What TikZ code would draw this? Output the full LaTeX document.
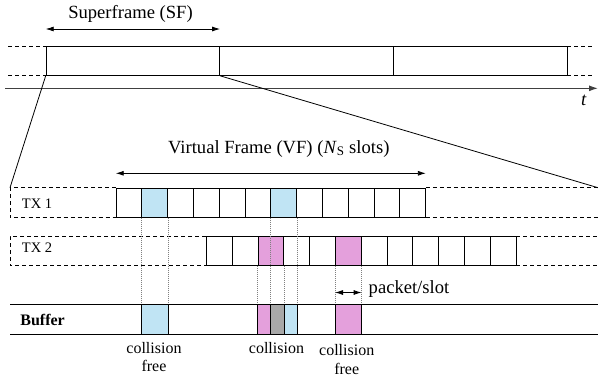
\documentclass[tikz,border=0pt]{standalone}
\usepackage{fontspec}
\setmainfont{Liberation Serif}
\usetikzlibrary{arrows.meta}

\definecolor{slotblue}{RGB}{192,228,244}
\definecolor{slotpink}{RGB}{228,160,220}
\definecolor{slotgray}{RGB}{168,168,168}

\tikzset{
  sfbox/.style={draw,minimum width=173.6pt,minimum height=29pt,inner sep=0pt,anchor=north west},
  slotbox/.style={draw,minimum width=25.8pt,minimum height=29pt,inner sep=0pt,anchor=north west},
  dashline/.style={dash pattern=on 4pt off 3pt},
  dotline/.style={gray,line width=0.4pt,dash pattern=on 1pt off 1pt},
  dimarrow/.style={{Latex[length=8pt,width=5pt]}-{Latex[length=8pt,width=5pt]}},
  biglab/.style={font=\fontsize{18.6}{20}\selectfont,inner sep=0pt},
  smalllab/.style={font=\fontsize{16}{18.4}\selectfont,inner sep=0pt,align=center},
  txlab/.style={font=\fontsize{14.5}{16}\selectfont,inner sep=0pt}
}

\begin{document}
\begin{tikzpicture}[x=1pt,y=-1pt,line width=0.8pt]
\useasboundingbox (0,0) rectangle (598,384);

\foreach \i in {1,2,3}
  \node[sfbox] (sf\i) at ({45.7+(\i-1)*173.6},46) {};
\coordinate (sfl) at (8,46);
\coordinate (sfr) at (593,46);
\draw[dashline] (sfl) -- (sf1.north west);
\draw[dashline] (sfl |- sf1.south west) -- (sf1.south west);
\draw[dashline] (sf3.north east) -- (sfr);
\draw[dashline] (sf3.south east) -- (sfr |- sf3.south east);

\draw[dimarrow] ([yshift=17pt]sf1.north west) -- ([yshift=17pt]sf1.north east);
\node[biglab,anchor=base] (sflab) at (130.5,18.3) {Superframe (SF)};

\coordinate (t0) at (5,88.3);
\coordinate (t1) at (598,88.3);
\draw[darkgray,line width=1.2pt,-{Latex[length=9pt,width=6pt]}] (t0) -- (t1);
\node[biglab,anchor=base] (tlab) at (584,105) {\textit{t}};

\coordinate (tx1l) at (10,187.7);
\coordinate (tx1r) at (598,187.7);
\coordinate (tx2l) at (10,236);
\coordinate (tx2r) at (598,236);

\foreach \c [count=\i] in {white,slotblue,white,white,white,white,slotblue,white,white,white,white,white}
  \node[slotbox,fill=\c] (tx1-\i) at ({115.7+(\i-1)*25.78},187.7) {};
\foreach \c [count=\i] in {white,white,slotpink,white,white,slotpink,white,white,white,white,white,white}
  \node[slotbox,fill=\c] (tx2-\i) at ({206+(\i-1)*25.8},236) {};

\draw (sf1.south west) -- (tx1l);
\draw (sf1.south east) -- (tx1r);

\draw[dashline] (tx1-1.north west) -- (tx1l) -- (tx1l |- tx1-1.south west) -- (tx1-1.south west);
\draw[dashline] (tx1-12.north east) -- (tx1r);
\draw[dashline] (tx1-12.south east) -- (tx1r |- tx1-12.south east);
\draw[dashline] (tx2-1.north west) -- (tx2l) -- (tx2l |- tx2-1.south west) -- (tx2-1.south west);
\draw[dashline] (tx2-12.north east) -- (tx2r);
\draw[dashline] (tx2-12.south east) -- (tx2r |- tx2-12.south east);

\node[txlab,anchor=base west] (tx1lab) at (21.5,208.3) {TX 1};
\node[txlab,anchor=base west] (tx2lab) at (21.5,252.3) {TX 2};

\draw[dimarrow] ([yshift=14.4pt]tx1-1.north west) -- ([yshift=14.4pt]tx1-12.north east);
\node[biglab,anchor=base] (vflab) at (278.8,153) {Virtual Frame (VF) (\textit{N}\textsubscript{S} slots)};

\coordinate (buftop) at (10,304);
\coordinate (bufbot) at (10,334);
\coordinate (bufend) at (598,304);

\foreach \n in {tx1-2,tx1-7,tx2-3,tx2-6}{
  \draw[dotline] (\n.south west) -- (\n.south west |- buftop);
  \draw[dotline] (\n.south east) -- (\n.south east |- buftop);
}

\draw (buftop) -- (bufend);
\draw (bufbot) -- (bufend |- bufbot);
\node[anchor=base west,inner sep=0pt,font=\fontsize{16}{18}\selectfont\bfseries] (buflab) at (20,325) {Buffer};

\filldraw[fill=slotblue] (tx1-2.south west |- buftop) rectangle (tx1-2.south east |- bufbot);
\filldraw[fill=slotpink] (tx2-3.south west |- buftop) rectangle (tx1-7.south west |- bufbot);
\filldraw[fill=slotgray] (tx1-7.south west |- buftop) rectangle (tx2-3.south east |- bufbot);
\filldraw[fill=slotblue] (tx2-3.south east |- buftop) rectangle (tx1-7.south east |- bufbot);
\filldraw[fill=slotpink] (tx2-6.south west |- buftop) rectangle (tx2-6.south east |- bufbot);

\draw[dimarrow] ([yshift=-26.7pt]tx2-6.south west) -- ([yshift=-26.7pt]tx2-6.south east);
\node[biglab,anchor=base west] (pslab) at (368.3,293.3) {packet/slot};

\node[smalllab,anchor=base] (cf1) at (154,371.7) {collision\\free};
\node[smalllab,anchor=base] (col) at (276.5,353.3) {collision};
\node[smalllab,anchor=base] (cf2) at (346.7,374) {collision\\free};
\end{tikzpicture}
\end{document}
